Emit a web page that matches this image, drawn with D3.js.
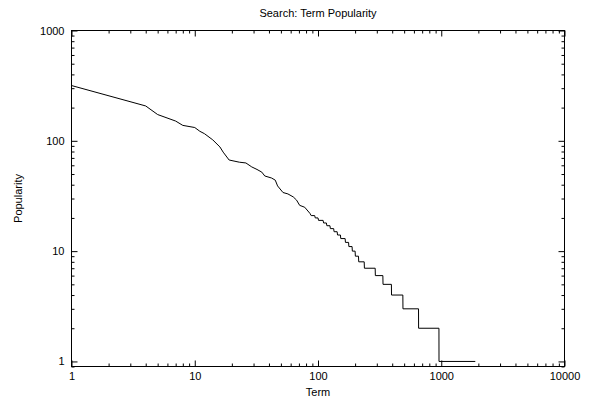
<!DOCTYPE html>
<html>
<head>
<meta charset="utf-8">
<script src="https://cdn.jsdelivr.net/npm/d3@7"></script>
<style>
  body { margin: 0; background: #fff; }
  svg text { font-family: "Liberation Sans", Arial, sans-serif; fill: #000; }
</style>
</head>
<body>
<div id="chart"></div>
<script>
// rank of each term (x) and how many times it was searched (y)
const ranks = [1, 4, 5, 7, 8, 10, 11, 12, 14, 16, 17, 19, 23, 26, 29, 32, 35, 37, 42, 45, 47, 52, 57, 63, 67, 71, 78, 86,
  88, 94, 95, 100, 101, 110, 111, 117, 118, 125, 126, 134, 135, 143, 144, 152, 153, 166, 167, 177, 178, 189,
  190, 200, 201, 213, 214, 237, 238, 291, 292, 336, 337, 394, 395, 488, 489, 654, 655, 958, 959, 1889];
const popularity = [317, 207, 173, 151, 138, 132, 122, 116, 102, 88, 79, 67, 64, 63, 58, 55, 52, 48, 46, 44, 39, 34, 33, 31, 29, 26, 25, 22,
  21, 21, 20, 20, 19, 19, 18, 18, 17, 17, 16, 16, 15, 15, 14, 14, 13, 13, 12, 12, 11, 11,
  10, 10, 9, 9, 8, 8, 7, 7, 6, 6, 5, 5, 4, 4, 3, 3, 2, 2, 1, 1];
const xMajor = [1, 10, 100, 1000, 10000];
const yMajor = [1, 10, 100, 1000];

const W = 593, H = 402;
const pLeft = 71.5, pRight = 564.5, pTop = 30.5, pBottom = 366.5;

const svg = d3.select("#chart").append("svg")
  .attr("width", W).attr("height", H);

const x = d3.scaleLog().domain([1, 10000]).range([pLeft, pRight]);
const y = d3.scaleLog().domain([0.9, 1000]).range([pBottom, pTop]);

// minor ticks 2..9 of every decade
function minors(dec) {
  let out = [];
  dec.forEach((d, i) => {
    if (i === dec.length - 1) return;
    for (let k = 2; k <= 9; k++) out.push(d * k);
  });
  return out;
}
const xMinor = minors(xMajor);
const yMinor = minors([0.1].concat(yMajor)).filter(v => v >= 0.9);

function axisGroup(axis, tx, ty) {
  const g = svg.append("g")
    .attr("transform", "translate(" + tx + "," + ty + ")")
    .call(axis);
  g.select(".domain").remove();
  g.selectAll("line").attr("stroke", "#000").attr("stroke-width", 1);
  g.selectAll("text").attr("font-size", 11).attr("fill", "#000")
    .attr("font-family", "Liberation Sans, Arial, sans-serif");
  return g;
}

// bottom + top
axisGroup(d3.axisBottom(x).tickValues(xMajor).tickFormat(d3.format("d"))
  .tickSizeInner(-6).tickSizeOuter(0).tickPadding(6), 0, pBottom);
axisGroup(d3.axisBottom(x).tickValues(xMinor).tickFormat("")
  .tickSizeInner(-3).tickSizeOuter(0), 0, pBottom);
axisGroup(d3.axisTop(x).tickValues(xMajor).tickFormat("")
  .tickSizeInner(-6).tickSizeOuter(0), 0, pTop);
axisGroup(d3.axisTop(x).tickValues(xMinor).tickFormat("")
  .tickSizeInner(-3).tickSizeOuter(0), 0, pTop);

// left + right
axisGroup(d3.axisLeft(y).tickValues(yMajor).tickFormat(d3.format("d"))
  .tickSizeInner(-6).tickSizeOuter(0).tickPadding(7), pLeft, 0);
axisGroup(d3.axisLeft(y).tickValues(yMinor).tickFormat("")
  .tickSizeInner(-3).tickSizeOuter(0), pLeft, 0);
axisGroup(d3.axisRight(y).tickValues(yMajor).tickFormat("")
  .tickSizeInner(-6).tickSizeOuter(0), pRight, 0);
axisGroup(d3.axisRight(y).tickValues(yMinor).tickFormat("")
  .tickSizeInner(-3).tickSizeOuter(0), pRight, 0);

// frame
svg.append("rect")
  .attr("x", pLeft).attr("y", pTop)
  .attr("width", pRight - pLeft).attr("height", pBottom - pTop)
  .attr("fill", "none").attr("stroke", "#000").attr("stroke-width", 1);

// the curve
const line = d3.line()
  .x((d, i) => x(ranks[i]))
  .y((d, i) => y(popularity[i]));

svg.append("path")
  .datum(ranks)
  .attr("d", line)
  .attr("fill", "none")
  .attr("stroke", "#000")
  .attr("stroke-width", 1);

// titles
svg.append("text")
  .attr("x", (pLeft + pRight) / 2).attr("y", 17)
  .attr("text-anchor", "middle").attr("font-size", 11)
  .text("Search: Term Popularity");

svg.append("text")
  .attr("x", (pLeft + pRight) / 2).attr("y", 396)
  .attr("text-anchor", "middle").attr("font-size", 11)
  .text("Term");

svg.append("text")
  .attr("transform", "translate(22," + (pTop + pBottom) / 2 + ") rotate(-90)")
  .attr("text-anchor", "middle").attr("font-size", 11)
  .text("Popularity");
</script>
</body>
</html>
